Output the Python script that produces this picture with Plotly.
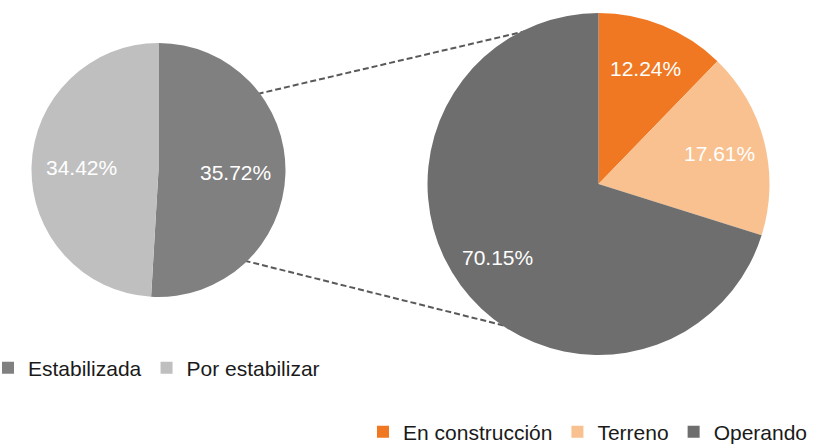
import math
import plotly.graph_objects as go

W, H = 813, 444

# ---- data ----
left_labels = ["Estabilizada", "Por estabilizar"]
left_values = [35.72, 34.42]
left_colors = ["#808080", "#BFBFBF"]

right_labels = ["En construcción", "Terreno", "Operando"]
right_values = [12.24, 17.61, 70.15]
right_colors = ["#F07822", "#F9C18F", "#6E6E6E"]

# ---- geometry (pixels) ----
LC, LR = (158.5, 170.0), 127.0
RC, RR = (598.5, 184.0), 171.0
FONT = "Liberation Sans, Arial, sans-serif"
FS = 21


def dom(c, r):
    return dict(x=[(c[0] - r) / W, (c[0] + r) / W],
                y=[1 - (c[1] + r) / H, 1 - (c[1] - r) / H])


def pt(c, r, ang):
    a = math.radians(ang)
    return ((c[0] + r * math.cos(a)) / W, 1 - (c[1] - r * math.sin(a)) / H)


def slice_label_pos(values, c, r, frac):
    """Mid-angle of each slice (clockwise from 12 o'clock) -> paper coords."""
    tot = sum(values)
    out, cum = [], 0.0
    for v in values:
        mid = (cum + v / 2) / tot * 2 * math.pi
        cum += v
        px = c[0] + frac * r * math.sin(mid)
        py = c[1] - frac * r * math.cos(mid)
        out.append((px / W, 1 - py / H))
    return out


fig = go.Figure()
fig.add_trace(go.Pie(
    labels=left_labels, values=left_values, sort=False, direction="clockwise",
    rotation=0, marker=dict(colors=left_colors, line=dict(width=0)),
    textinfo="none", domain=dom(LC, LR), legend="legend",
    hoverinfo="label+value",
))
fig.add_trace(go.Pie(
    labels=right_labels, values=right_values, sort=False, direction="clockwise",
    rotation=0, marker=dict(colors=right_colors, line=dict(width=0)),
    textinfo="none", domain=dom(RC, RR), legend="legend2",
    hoverinfo="label+value",
))

# data labels at slice mid-angles
for vals, c, r, frac in [(left_values, LC, LR, 0.61), (right_values, RC, RR, 0.73)]:
    for v, (x, y) in zip(vals, slice_label_pos(vals, c, r, frac)):
        fig.add_annotation(x=x, y=y, xref="paper", yref="paper",
                           text=f"{v:.2f}%", showarrow=False,
                           font=dict(color="white", size=FS, family=FONT),
                           xanchor="center", yanchor="middle")

# connector lines (drawn below the pies)
for la, ra in [(37.5, 115.0), (-46.5, -122.6)]:
    x0, y0 = pt(LC, LR - 2, la)
    x1, y1 = pt(RC, RR - 2, ra)
    fig.add_shape(type="line", xref="paper", yref="paper", x0=x0, y0=y0,
                  x1=x1, y1=y1, layer="below",
                  line=dict(color="#595959", width=2, dash="6px,3px"))

fig.update_layout(
    width=W, height=H, margin=dict(l=0, r=0, t=0, b=0, autoexpand=False),
    paper_bgcolor="white", plot_bgcolor="white",
    font=dict(family=FONT, size=FS, color="#1a1a1a"),
    legend=dict(orientation="h", x=-12 / W, xanchor="left", y=1 - 368 / H,
                yanchor="middle", font=dict(size=FS, family=FONT, color="#1a1a1a"),
                bgcolor="rgba(0,0,0,0)", traceorder="normal"),
    legend2=dict(orientation="h", x=1, xanchor="right", y=1 - 432 / H,
                 yanchor="middle", font=dict(size=FS, family=FONT, color="#1a1a1a"),
                 bgcolor="rgba(0,0,0,0)", traceorder="normal"),
)

fig.write_html("out.html", config={"displayModeBar": False},
               post_script="document.body.style.margin='0';document.body.style.overflow='hidden';")
